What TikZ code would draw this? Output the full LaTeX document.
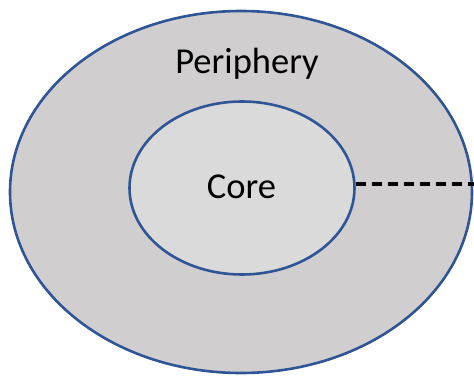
\documentclass[tikz,border=0pt]{standalone}
\usepackage{fontspec}
\setmainfont{Carlito}
\usetikzlibrary{shapes.geometric}
\definecolor{ringblue}{RGB}{47,85,151}
\definecolor{outerfill}{RGB}{208,206,206}
\definecolor{innerfill}{RGB}{218,218,218}
\tikzset{
  ring/.style={ellipse, draw=ringblue, line width=2.6pt, inner sep=0pt},
  lbl/.style={font=\fontsize{36.5}{40}\selectfont, text=black, anchor=base},
  dashconn/.style={line width=3.2pt, dash pattern=on 10.5pt off 5.5pt, black}
}
\begin{document}
\begin{tikzpicture}[x=1pt,y=1pt]
\useasboundingbox (0,0) rectangle (474,376);
\node[ring, fill=outerfill, minimum width=462pt, minimum height=362pt] (outer) at (241,184) {};
\node[ring, fill=innerfill, minimum width=225pt, minimum height=173pt] (inner) at (242,188) {};
\node[lbl] (periphery) at (247,302.5) {Periphery};
\node[lbl] (core) at (241.5,177.7) {Core};
\coordinate (dashstart) at ([yshift=4pt]inner.east);
\coordinate (dashend) at (476,192);
\draw[dashconn] (dashstart) -- (dashstart -| dashend);
\end{tikzpicture}
\end{document}
